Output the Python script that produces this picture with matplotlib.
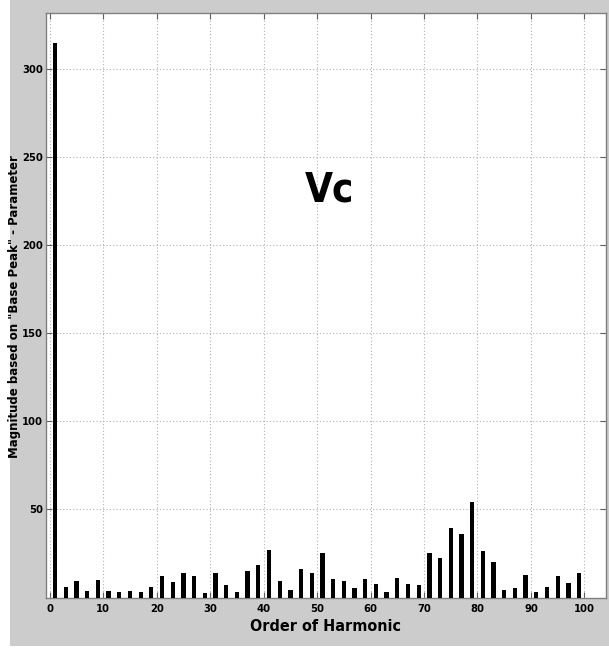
import matplotlib
matplotlib.use("Agg")
import matplotlib.pyplot as plt
from matplotlib.patches import Rectangle

harmonics = list(range(1, 100, 2))
magnitudes = [315, 6, 9.4, 3.6, 10, 3.6, 3.2, 3.6, 3.2, 6,
              12, 9, 14, 12, 2.6, 13.7, 7, 3.2, 14.8, 18.7,
              27, 9.4, 4.5, 16, 14, 25, 10.3, 9.2, 5.4, 10.3,
              7.9, 3.4, 11.2, 7.9, 7.1, 25, 22.5, 39.7, 36, 54,
              26.4, 20.4, 4.5, 5.4, 12.5, 3.4, 6, 12, 8.2, 14]
xticks = list(range(0, 101, 10))
yticks = [50, 100, 150, 200, 250, 300]

W, H = 609, 648
fig = plt.figure(figsize=(W / 100, H / 100), dpi=100, facecolor='white')
fig.patches.append(Rectangle((10 / W, 2 / H), 1 - 10 / W, 1 - 2 / H,
                             transform=fig.transFigure, facecolor='#cccccc',
                             edgecolor='none', zorder=-10))

ax = fig.add_axes([45.5 / W, (H - 597.5) / H, 560.3 / W, 584.5 / H])
ax.set_facecolor('white')
ax.bar(harmonics, magnitudes, width=0.8, color='black', zorder=3)
ax.set_xlim(-0.8, 104)
ax.set_ylim(0, 332)
ax.set_xticks(xticks)
ax.set_yticks(yticks)
ax.grid(True, linestyle=(0, (1, 2)), color='#b0b0b0', linewidth=0.8, zorder=0)
ax.tick_params(direction='in', length=4, width=0.8, color='#606060',
               top=True, right=True, labelsize=8)
ax.tick_params(axis='y', pad=2)
ax.tick_params(axis='x', pad=5)
for lab in ax.get_xticklabels() + ax.get_yticklabels():
    lab.set_fontfamily('DejaVu Sans')
    lab.set_fontstretch('condensed')
    lab.set_fontweight('bold')
for s in ax.spines.values():
    s.set_color('#808080')
    s.set_linewidth(1.0)

ax.set_xlabel('Order of Harmonic', family='DejaVu Sans', stretch='condensed',
              fontweight='bold', fontsize=11.5, labelpad=3)
fig.text(15 / W, 1 - 307 / H, 'Magnitude based on "Base Peak" - Parameter',
         rotation=90, ha='center', va='center', family='DejaVu Sans',
         fontweight='bold', fontsize=8.5)
ax.text(52.4, 231, 'Vc', family='DejaVu Sans', stretch='condensed',
        fontweight='bold', fontsize=29, ha='center', va='center')

fig.savefig('out.png', dpi=100, facecolor=fig.get_facecolor())
